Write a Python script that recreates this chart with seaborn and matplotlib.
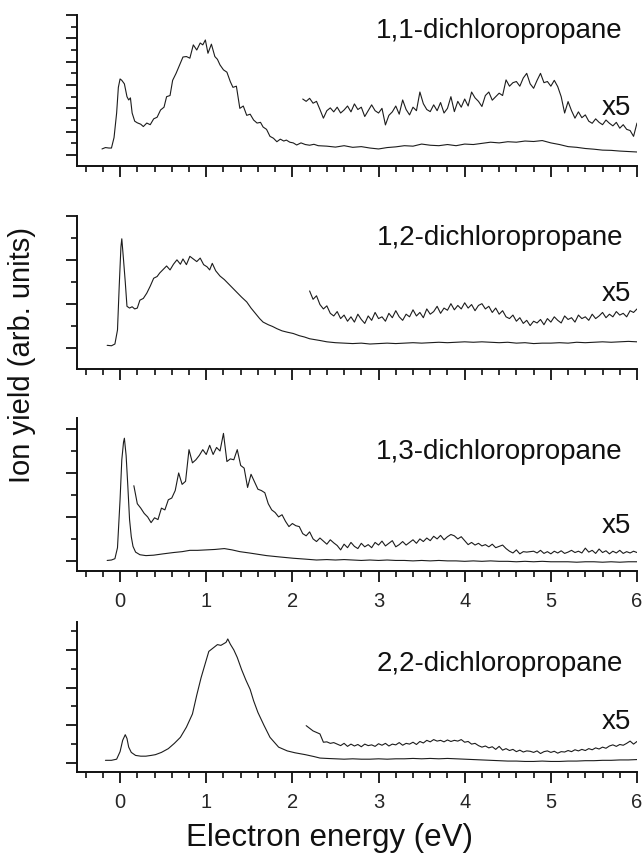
import numpy as np
import pandas as pd
import matplotlib.pyplot as plt
import seaborn as sns
from matplotlib.ticker import MultipleLocator, NullFormatter

sns.set_theme(style="ticks")
plt.rcParams['font.family'] = ['Liberation Sans', 'DejaVu Sans']

# common tail of the main curves (2.4 .. 6.0 eV, 0.1 eV step)
tail_x = np.round(np.arange(2.4, 6.001, 0.1), 2)

# ---- 1,1-dichloropropane ----
p1_x = [-0.21, -0.17, -0.13, -0.10, -0.07, -0.04, -0.02, 0.00, 0.02, 0.05,
        0.08, 0.10, 0.12, 0.14, 0.17, 0.20, 0.24, 0.27, 0.31, 0.35,
        0.39, 0.43, 0.47, 0.51, 0.54, 0.58, 0.61, 0.65, 0.69, 0.73,
        0.77, 0.81, 0.85, 0.89, 0.93, 0.96, 0.99, 1.02, 1.06, 1.10,
        1.13, 1.16, 1.20, 1.24, 1.28, 1.31, 1.35, 1.39, 1.43, 1.47,
        1.51, 1.55, 1.59, 1.63, 1.66, 1.70, 1.74, 1.78, 1.82, 1.86,
        1.90, 1.93, 1.97, 2.01, 2.05, 2.10, 2.15, 2.20, 2.25, 2.30]
p1_y = [0.26, 0.32, 0.30, 0.30, 0.75, 1.80, 2.90, 3.26, 3.20, 3.05,
        2.50, 2.36, 2.45, 1.80, 1.45, 1.38, 1.32, 1.22, 1.37, 1.30,
        1.55, 1.62, 1.93, 2.05, 2.50, 2.55, 3.20, 3.50, 3.85, 4.20,
        4.22, 4.15, 4.72, 4.50, 4.80, 4.72, 4.93, 4.36, 4.75, 4.22,
        4.10, 3.86, 3.65, 3.55, 3.14, 2.90, 2.95, 2.00, 2.10, 1.70,
        1.75, 1.50, 1.37, 1.40, 1.20, 1.10, 0.80, 0.72, 0.57, 0.68,
        0.60, 0.64, 0.55, 0.52, 0.43, 0.52, 0.45, 0.42, 0.46, 0.40]
p1_tail = [0.38, 0.34, 0.40, 0.33, 0.36, 0.30, 0.26, 0.32, 0.35, 0.40,
           0.38, 0.47, 0.42, 0.40, 0.45, 0.40, 0.47, 0.45, 0.50, 0.55,
           0.52, 0.57, 0.55, 0.60, 0.58, 0.62, 0.52, 0.45, 0.36, 0.33,
           0.28, 0.25, 0.21, 0.20, 0.17, 0.15, 0.13]
p1_x5 = [2.40, 2.30, 2.43, 2.22, 2.30, 1.95, 1.58, 1.90, 2.02, 1.85,
         2.05, 1.80, 1.93, 2.10, 1.85, 2.19, 1.95, 2.05, 1.65, 1.90,
         2.15, 1.90, 1.80, 2.00, 1.29, 1.70, 1.85, 2.10, 1.75, 2.36,
         1.95, 1.72, 2.05, 1.90, 2.70, 2.20, 1.95, 1.86, 2.15, 1.90,
         2.25, 1.80, 2.00, 2.50, 1.86, 2.30, 2.05, 2.40, 2.10, 2.70,
         2.45, 2.30, 2.08, 2.55, 2.70, 2.35, 2.50, 2.65, 2.55, 3.22,
         2.95, 3.10, 3.15, 2.95, 3.30, 3.50, 3.05, 2.86, 3.20, 3.50,
         3.10, 3.15, 2.95, 3.20, 2.93, 2.50, 1.80, 2.29, 1.90, 1.58,
         1.85, 1.60, 1.72, 1.45, 1.36, 1.55, 1.40, 1.30, 1.50, 1.36,
         1.25, 1.40, 1.15, 1.30, 1.10, 1.05, 0.80, 1.37]

# ---- 1,2-dichloropropane ----
p2_x = [-0.15, -0.10, -0.06, -0.03, -0.01, 0.01, 0.02, 0.04, 0.06, 0.08,
        0.11, 0.14, 0.17, 0.20, 0.23, 0.27, 0.31, 0.35, 0.39, 0.43,
        0.46, 0.50, 0.54, 0.58, 0.62, 0.66, 0.70, 0.73, 0.77, 0.81,
        0.85, 0.89, 0.93, 0.97, 1.01, 1.04, 1.07, 1.11, 1.16, 1.21,
        1.26, 1.31, 1.36, 1.41, 1.47, 1.52, 1.57, 1.62, 1.66, 1.72,
        1.77, 1.82, 1.88, 1.94, 2.01, 2.08, 2.14, 2.20, 2.26, 2.32]
p2_y = [0.05, 0.04, 0.08, 0.40, 1.40, 2.30, 2.48, 2.00, 1.50, 0.94,
        0.90, 0.93, 0.88, 0.90, 1.08, 1.12, 1.24, 1.40, 1.58, 1.62,
        1.70, 1.78, 1.86, 1.77, 1.90, 2.00, 1.90, 2.02, 1.89, 2.08,
        2.02, 1.96, 2.04, 1.89, 1.84, 1.77, 1.92, 1.75, 1.63, 1.55,
        1.45, 1.35, 1.25, 1.15, 1.04, 0.90, 0.78, 0.66, 0.58, 0.52,
        0.48, 0.43, 0.38, 0.35, 0.32, 0.27, 0.24, 0.20, 0.18, 0.16]
p2_tail = [0.13, 0.11, 0.10, 0.09, 0.10, 0.08, 0.09, 0.10, 0.09, 0.10,
           0.11, 0.10, 0.11, 0.12, 0.11, 0.12, 0.13, 0.12, 0.13, 0.12,
           0.11, 0.12, 0.10, 0.11, 0.09, 0.10, 0.10, 0.11, 0.10, 0.12,
           0.11, 0.12, 0.13, 0.12, 0.13, 0.14, 0.13]
p2_x5 = [1.29, 1.10, 1.18, 0.98, 0.88, 0.95, 0.78, 0.72, 0.82, 0.66,
         0.74, 0.60, 0.70, 0.58, 0.76, 0.64, 0.55, 0.72, 0.62, 0.80,
         0.66, 0.70, 0.60, 0.78, 0.68, 0.84, 0.70, 0.62, 0.76, 0.70,
         0.86, 0.72, 0.80, 0.68, 0.88, 0.76, 0.82, 0.94, 0.78, 0.90,
         0.85, 1.00, 0.86, 0.96, 0.88, 1.02, 0.90, 0.98, 0.84, 0.96,
         1.00, 0.88, 0.94, 0.80, 0.90, 0.76, 0.84, 0.70, 0.66, 0.74,
         0.60, 0.68, 0.55, 0.62, 0.50, 0.60, 0.56, 0.64, 0.52, 0.66,
         0.58, 0.70, 0.62, 0.56, 0.72, 0.64, 0.68, 0.58, 0.74, 0.66,
         0.70, 0.62, 0.76, 0.66, 0.72, 0.80, 0.68, 0.76, 0.70, 0.82,
         0.74, 0.78, 0.70, 0.84, 0.80, 0.88]

# ---- 1,3-dichloropropane ----
p3_x = [-0.15, -0.10, -0.06, -0.03, 0.00, 0.02, 0.04, 0.05, 0.07, 0.09,
        0.11, 0.13, 0.15, 0.18, 0.23, 0.30, 0.39, 0.50, 0.62, 0.72,
        0.81, 0.90, 1.00, 1.10, 1.21, 1.30, 1.39, 1.50, 1.60, 1.70,
        1.85, 2.01, 2.15, 2.28]
p3_y = [0.01, 0.02, 0.05, 0.30, 1.40, 2.30, 2.70, 2.79, 2.40, 1.70,
        0.94, 0.55, 0.33, 0.20, 0.14, 0.12, 0.13, 0.16, 0.19, 0.21,
        0.24, 0.24, 0.25, 0.26, 0.28, 0.25, 0.21, 0.18, 0.15, 0.12,
        0.09, 0.06, 0.04, 0.02]
p3_tail = [0.03, 0.02, 0.03, 0.02, 0.01, 0.02, 0.01, 0.02, 0.01, 0.01,
           0.00, 0.01, 0.00, 0.01, 0.00, 0.00, -0.01, 0.00, -0.01, 0.00,
           -0.01, -0.01, -0.02, -0.01, -0.02, -0.01, -0.02, -0.02, -0.02, -0.03,
           -0.02, -0.02, -0.03, -0.02, -0.03, -0.02, -0.02]
p3_x5 = [1.71, 1.30, 1.20, 1.08, 1.00, 0.87, 0.98, 0.94, 1.20, 1.16,
         1.39, 1.43, 1.60, 2.00, 1.74, 1.81, 2.53, 2.23, 2.30, 2.40,
         2.53, 2.42, 2.63, 2.42, 2.58, 2.50, 2.90, 2.26, 2.32, 2.30,
         2.53, 2.17, 2.11, 1.67, 1.97, 1.80, 1.63, 1.60, 1.55, 1.30,
         1.16, 1.10, 1.00, 1.05, 0.90, 0.78, 0.85, 0.80, 0.78, 0.62,
         0.57, 0.66, 0.50, 0.44, 0.52, 0.45, 0.38, 0.48, 0.41, 0.35,
         0.25, 0.38, 0.30, 0.42, 0.33, 0.28, 0.40, 0.32, 0.37, 0.30,
         0.42, 0.36, 0.45, 0.34, 0.40, 0.46, 0.32, 0.37, 0.44, 0.36,
         0.42, 0.48, 0.40, 0.50, 0.44, 0.52, 0.46, 0.56, 0.50, 0.58,
         0.48, 0.55, 0.60, 0.57, 0.50, 0.55, 0.46, 0.37, 0.42, 0.36,
         0.40, 0.34, 0.37, 0.32, 0.38, 0.30, 0.33, 0.36, 0.28, 0.22,
         0.18, 0.25, 0.16, 0.21, 0.20, 0.21, 0.22, 0.18, 0.24, 0.17,
         0.21, 0.16, 0.22, 0.18, 0.23, 0.17, 0.20, 0.24, 0.19, 0.22,
         0.18, 0.29, 0.20, 0.24, 0.17, 0.27, 0.19, 0.23, 0.16, 0.22,
         0.18, 0.24, 0.17, 0.21, 0.18, 0.22, 0.19]

# ---- 2,2-dichloropropane ----
p4_x = [-0.17, -0.10, -0.04, 0.00, 0.03, 0.06, 0.08, 0.10, 0.13, 0.18,
        0.24, 0.30, 0.36, 0.41, 0.48, 0.56, 0.63, 0.70, 0.77, 0.84,
        0.89, 0.94, 0.99, 1.03, 1.08, 1.13, 1.17, 1.20, 1.23, 1.25,
        1.28, 1.32, 1.36, 1.41, 1.46, 1.51, 1.55, 1.60, 1.67, 1.74,
        1.84, 1.94, 2.03, 2.15, 2.25, 2.32]
p4_y = [0.07, 0.07, 0.10, 0.30, 0.60, 0.75, 0.65, 0.42, 0.28, 0.20,
        0.18, 0.18, 0.20, 0.22, 0.28, 0.38, 0.52, 0.68, 0.95, 1.30,
        1.80, 2.26, 2.65, 2.96, 3.05, 3.14, 3.12, 3.16, 3.20, 3.29,
        3.15, 3.00, 2.80, 2.48, 2.20, 1.95, 1.65, 1.34, 1.00, 0.68,
        0.42, 0.32, 0.27, 0.22, 0.17, 0.13]
p4_tail = [0.12, 0.11, 0.10, 0.11, 0.10, 0.10, 0.11, 0.10, 0.11, 0.11,
           0.12, 0.11, 0.12, 0.11, 0.12, 0.11, 0.10, 0.09, 0.08, 0.07,
           0.06, 0.05, 0.05, 0.04, 0.04, 0.05, 0.04, 0.04, 0.05, 0.05,
           0.06, 0.06, 0.07, 0.07, 0.08, 0.08, 0.09]
p4_x5 = [0.99, 0.92, 0.85, 0.81, 0.77, 0.55, 0.56, 0.52, 0.54, 0.50,
         0.46, 0.52, 0.44, 0.50, 0.45, 0.49, 0.43, 0.50, 0.46, 0.48,
         0.44, 0.51, 0.47, 0.52, 0.45, 0.50, 0.48, 0.54, 0.47, 0.52,
         0.50, 0.55, 0.49, 0.57, 0.53, 0.60, 0.56, 0.62, 0.58, 0.60,
         0.56, 0.61, 0.57, 0.60, 0.58, 0.62, 0.55, 0.57, 0.50, 0.52,
         0.46, 0.42, 0.45, 0.40, 0.43, 0.36, 0.44, 0.34, 0.38, 0.33,
         0.36, 0.30, 0.34, 0.29, 0.32, 0.31, 0.28, 0.32, 0.25, 0.30,
         0.32, 0.28, 0.31, 0.26, 0.30, 0.29, 0.33, 0.30, 0.35, 0.32,
         0.36, 0.33, 0.38, 0.35, 0.40, 0.37, 0.42, 0.39, 0.45, 0.48,
         0.44, 0.49, 0.47, 0.52, 0.58, 0.50, 0.57]

names = ['1,1-dichloropropane', '1,2-dichloropropane',
         '1,3-dichloropropane', '2,2-dichloropropane']
x5_start = [2.12, 2.20, 0.16, 2.16]

panels = [
    (p1_x, p1_y, p1_tail, p1_x5),
    (p2_x, p2_y, p2_tail, p2_x5),
    (p3_x, p3_y, p3_tail, p3_x5),
    (p4_x, p4_y, p4_tail, p4_x5),
]

# layout in pixels of the 643x859 picture
W, H = 643, 859
left_px, right_px = 77, 637
boxes = [(15, 166), (216, 369), (418, 571), (622, 772)]
ylims = [(-0.47, 6.0), (-0.49, 3.0), (-0.23, 3.25), (-0.24, 3.74)]
title_y = [31, 238, 452, 664]
x5_y = [108, 294, 526, 722]
show_xlabels = [False, False, True, True]

line_col = '#1c1c1c'

fig = plt.figure(figsize=(W / 100, H / 100), dpi=100)

for i, (mx, my, mtail, x5) in enumerate(panels):
    top, bot = boxes[i]
    ax = fig.add_axes([left_px / W, 1 - bot / H, (right_px - left_px) / W, (bot - top) / H])

    main = pd.DataFrame({'energy': np.concatenate([mx, tail_x]),
                         'ion_yield': np.concatenate([my, mtail])})
    mag = pd.DataFrame({'energy': np.linspace(x5_start[i], 6.0, len(x5)),
                        'ion_yield': x5})

    sns.lineplot(data=main, x='energy', y='ion_yield', ax=ax, color=line_col,
                 lw=0.8, estimator=None, sort=False)
    sns.lineplot(data=mag, x='energy', y='ion_yield', ax=ax, color=line_col,
                 lw=0.8, estimator=None, sort=False)

    ax.set_xlim(-0.5, 6.0)
    ax.set_ylim(*ylims[i])
    ax.set_xlabel('')
    ax.set_ylabel('')
    sns.despine(ax=ax)
    for s in ['left', 'bottom']:
        ax.spines[s].set_linewidth(1.4)
        ax.spines[s].set_color('#111111')

    ax.xaxis.set_major_locator(MultipleLocator(1))
    ax.xaxis.set_minor_locator(MultipleLocator(0.2))
    ax.yaxis.set_major_locator(MultipleLocator(1))
    ax.yaxis.set_minor_locator(MultipleLocator(0.5))
    ax.yaxis.set_major_formatter(NullFormatter())
    ax.tick_params(which='major', direction='out', length=8, width=1.3, color='#111111')
    ax.tick_params(which='minor', direction='out', length=4.5, width=1.2, color='#111111')
    ax.tick_params(axis='x', which='major', labelsize=14.5, pad=7)
    if not show_xlabels[i]:
        ax.xaxis.set_major_formatter(NullFormatter())

    fig.text(623 / W, 1 - title_y[i] / H, names[i], ha='right', va='center',
             fontsize=20, color='#111111')
    fig.text(631 / W, 1 - x5_y[i] / H, 'x5', ha='right', va='center',
             fontsize=20, color='#111111')

fig.text(330 / W, 1 - 838 / H, 'Electron energy (eV)', ha='center', va='center',
         fontsize=22.5, color='#111111')
fig.text(22 / W, 1 - 355 / H, 'Ion yield (arb. units)', ha='center', va='center',
         rotation=90, fontsize=21, color='#111111')

fig.savefig('out.png', dpi=100)
